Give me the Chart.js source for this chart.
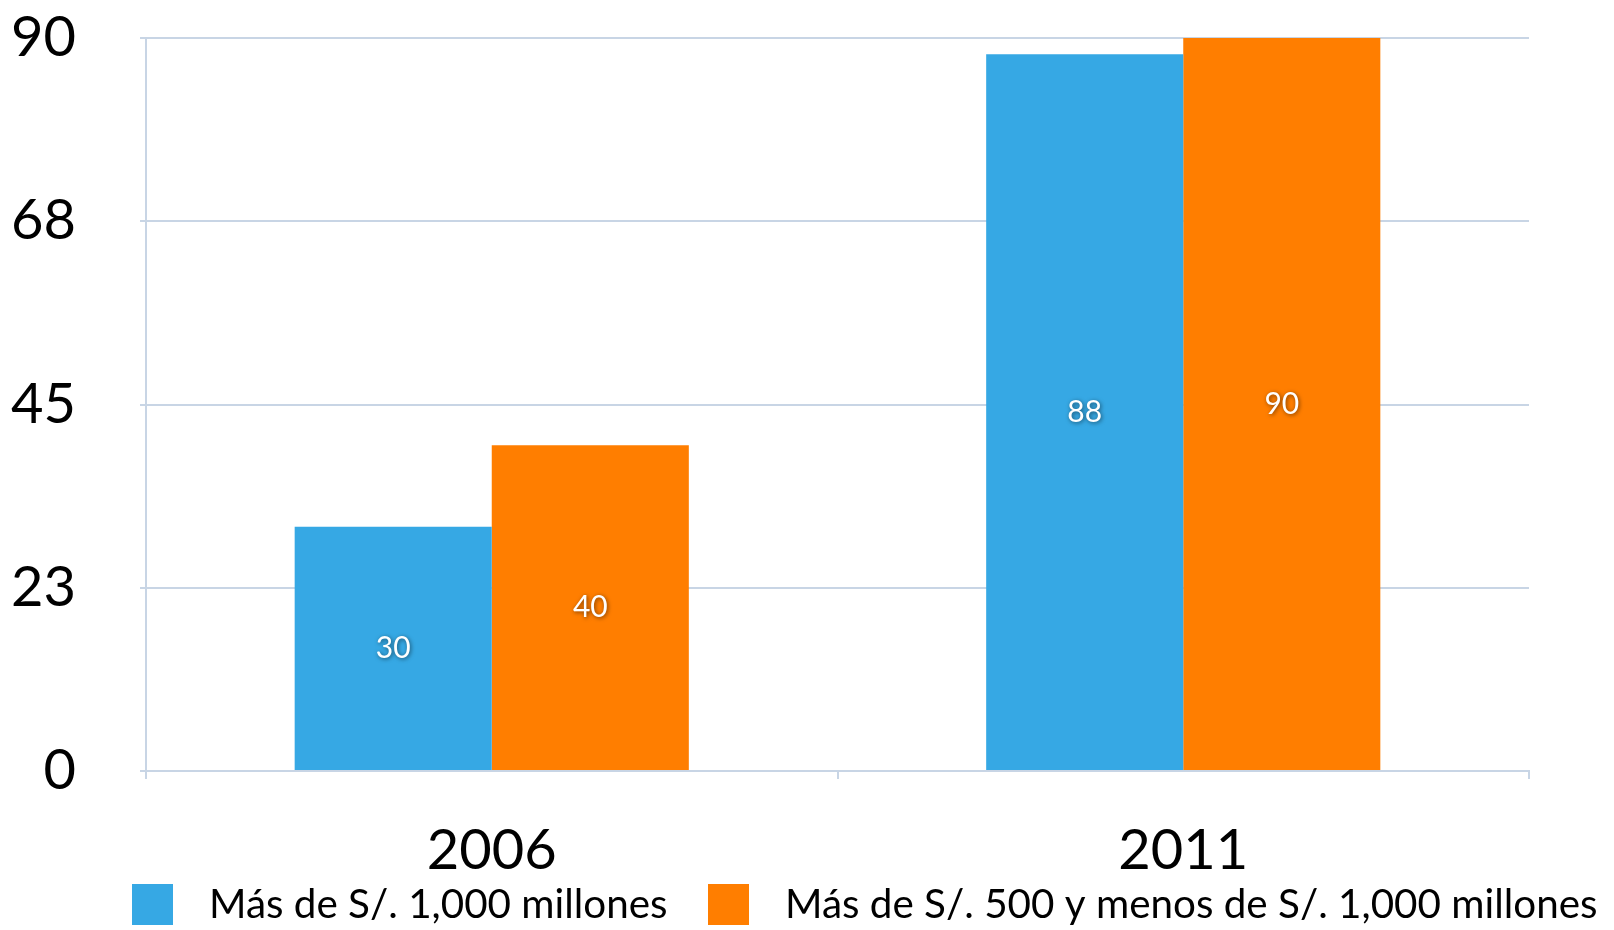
<!DOCTYPE html>
<html>
<head>
<meta charset="utf-8">
<script src="https://cdn.jsdelivr.net/npm/chart.js@4.4.1/dist/chart.umd.min.js"></script>
<style>
  html,body{margin:0;padding:0;background:#fff}
  #wrap{position:relative;width:1614px;height:930px}
</style>
</head>
<body>
<div id="wrap"><canvas id="c"></canvas></div>
<script>
const YEARS=['2006','2011']
const SERIES=['Más de S/. 1,000 millones','Más de S/. 500 y menos de S/. 1,000 millones']
const MAS_1000=[30,88]
const ENTRE_500_1000=[40,90]
const YTICKS=['0','23','45','68','90']

const blue='#36a8e4',orange='#ff7e00',gc='#c8d5e5',font='Lato'

// value labels in the middle of each bar, white with a soft shadow
const barLabels={id:'barLabels',afterDatasetsDraw(chart){
  const ctx=chart.ctx
  ctx.save()
  ctx.font='30px '+font
  ctx.fillStyle='#fff'
  ctx.textAlign='center'
  ctx.textBaseline='middle'
  ctx.shadowColor='rgba(0,0,0,0.55)'
  ctx.shadowBlur=4
  ctx.shadowOffsetX=1
  ctx.shadowOffsetY=1
  chart.data.datasets.forEach((ds,i)=>{
    chart.getDatasetMeta(i).data.forEach((bar,j)=>{
      ctx.fillText(ds.data[j],bar.x,(bar.y+bar.base)/2)
    })
  })
  ctx.restore()
}}

// legend row along the bottom edge
const bottomLegend={id:'bottomLegend',afterDraw(chart){
  const ctx=chart.ctx,y=904,pos=[132,708]
  ctx.save()
  ctx.font='40.4px '+font
  ctx.textBaseline='middle'
  chart.data.datasets.forEach((ds,i)=>{
    ctx.fillStyle=ds.backgroundColor
    ctx.fillRect(pos[i],y-20,41,41)
    ctx.fillStyle='#000'
    ctx.fillText(ds.label,pos[i]+77,y+1)
  })
  ctx.restore()
}}

new Chart(document.getElementById('c'),{
  type:'bar',
  data:{labels:YEARS,datasets:[
    {label:SERIES[0],data:MAS_1000,backgroundColor:blue},
    {label:SERIES[1],data:ENTRE_500_1000,backgroundColor:orange},
  ]},
  options:{
    responsive:true,maintainAspectRatio:false,animation:false,
    layout:{padding:{left:10,right:85,top:8,bottom:7}},
    datasets:{bar:{barPercentage:1,categoryPercentage:0.57}},
    plugins:{legend:{display:false},tooltip:{enabled:false}},
    scales:{
      x:{
        grid:{offset:true,drawOnChartArea:false,color:gc,lineWidth:2,tickLength:8},
        border:{color:gc,width:2},
        ticks:{color:'#000',font:{family:font,size:56,lineHeight:1},padding:44}
      },
      y:{
        min:0,max:90,
        grid:{color:gc,lineWidth:2,tickLength:6},
        border:{color:gc,width:2},
        ticks:{stepSize:22.5,color:'#000',font:{family:font,size:56},padding:64,callback:(v,i)=>YTICKS[i]},
        afterFit(s){s.width=136;s.paddingTop=38;s.paddingBottom=34}
      }
    }
  },
  plugins:[barLabels,bottomLegend]
})
</script>
</body>
</html>
